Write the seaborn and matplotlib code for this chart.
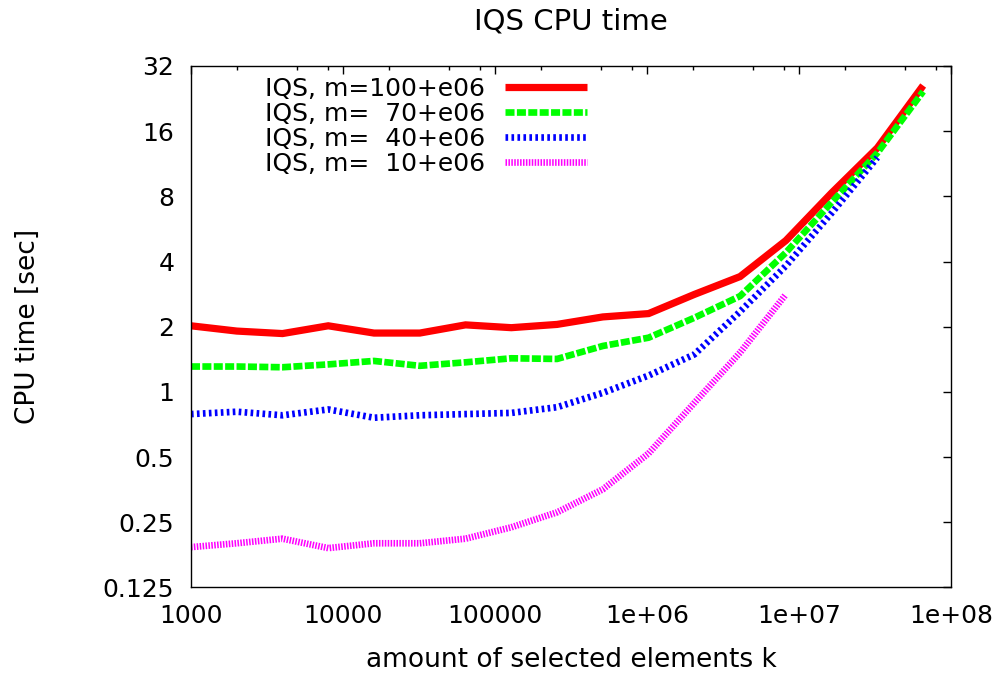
import matplotlib
matplotlib.use("Agg")
import matplotlib.pyplot as plt
import matplotlib.ticker as mticker
import seaborn as sns
import pandas as pd

# ---- data ----
k_values = [1000, 2000, 4000, 8000, 16000, 32000, 64000, 128000, 256000,
            512000, 1024000, 2048000, 4096000, 8192000, 16384000,
            32768000, 65536000]
cpu_m100 = [2.02, 1.91, 1.86, 2.02, 1.87, 1.87, 2.04, 1.98, 2.05, 2.22,
            2.30, 2.82, 3.41, 5.0, 8.3, 13.4, 26.0]
cpu_m70 = [1.31, 1.31, 1.30, 1.34, 1.39, 1.32, 1.37, 1.43, 1.42, 1.63,
           1.78, 2.20, 2.77, 4.4, 7.5, 12.7, 24.4]
cpu_m40 = [0.79, 0.81, 0.78, 0.83, 0.76, 0.78, 0.79, 0.80, 0.85, 0.99,
           1.19, 1.49, 2.35, 3.82, 6.7, 12.1]
cpu_m10 = [0.192, 0.200, 0.210, 0.190, 0.200, 0.200, 0.210, 0.237, 0.278,
           0.355, 0.52, 0.89, 1.52, 2.82]
series_labels = ["IQS, m=100+e06", "IQS, m=  70+e06", "IQS, m=  40+e06",
                 "IQS, m=  10+e06"]
x_tick_values = [1000, 10000, 100000, 1000000, 10000000, 100000000]
x_tick_labels = ["1000", "10000", "100000", "1e+06", "1e+07", "1e+08"]
y_tick_values = [0.125, 0.25, 0.5, 1, 2, 4, 8, 16, 32]
y_tick_labels = ["0.125", "0.25", "0.5", "1", "2", "4", "8", "16", "32"]
title = "IQS CPU time"
x_label = "amount of selected elements k"
y_label = "CPU time [sec]"

# ---- style ----
sns.set_style("white")
plt.rcParams["font.family"] = ["DejaVu Sans"]
plt.rcParams["lines.scale_dashes"] = False
for key in ["text.color", "axes.labelcolor", "xtick.color", "ytick.color",
            "axes.edgecolor"]:
    plt.rcParams[key] = "black"

fig = plt.figure(figsize=(10.03, 6.79), dpi=100)
ax = fig.add_axes([0.1904, 0.1348, 0.7578, 0.768])

colors = ["#ff0000", "#00ff00", "#0000ff", "#ff00ff"]
widths = [5.2, 4.8, 4.8, 4.8]
dash_patterns = [None, (6.5, 1.7), (1.9, 2.4), (1.1, 1.0)]
all_series = [cpu_m100, cpu_m70, cpu_m40, cpu_m10]

for vals, lab, col, lw, dp in zip(all_series, series_labels, colors, widths,
                                  dash_patterns):
    df = pd.DataFrame({"k": k_values[:len(vals)], "t": vals})
    sns.lineplot(data=df, x="k", y="t", ax=ax, color=col, linewidth=lw,
                 label=lab, errorbar=None, sort=False)
    line = ax.lines[-1]
    if dp is not None:
        line.set_dashes(dp)
        line.set_dash_capstyle("butt")
    else:
        line.set_solid_capstyle("butt")
        line.set_solid_joinstyle("miter")

ax.set_xscale("log")
ax.set_yscale("log", base=2)
ax.set_xlim(1000, 1e8)
ax.set_ylim(0.125, 32)

ax.xaxis.set_major_locator(mticker.FixedLocator(x_tick_values))
ax.xaxis.set_major_formatter(mticker.FixedFormatter(x_tick_labels))
ax.xaxis.set_minor_locator(mticker.LogLocator(base=10, subs=[2, 5, 8]))
ax.xaxis.set_minor_formatter(mticker.NullFormatter())
ax.yaxis.set_major_locator(mticker.FixedLocator(y_tick_values))
ax.yaxis.set_major_formatter(mticker.FixedFormatter(y_tick_labels))
ax.yaxis.set_minor_locator(mticker.NullLocator())

ax.tick_params(axis="both", which="both", direction="in", top=True,
               right=True, colors="black", width=1.0)
ax.tick_params(axis="both", which="major", length=6, labelsize=18)
ax.tick_params(axis="x", which="major", pad=12)
ax.tick_params(axis="y", which="major", pad=12)
ax.tick_params(axis="both", which="minor", length=3)

for sp in ax.spines.values():
    sp.set_color("black")
    sp.set_linewidth(1.0)
    sp.set_visible(True)

ax.text(0.5, 1.086, title, transform=ax.transAxes, fontsize=21,
        ha="center", va="center", color="black")
ax.set_xlabel(x_label, fontsize=19)
ax.set_ylabel(y_label, fontsize=19)
ax.xaxis.set_label_coords(0.5, -0.139)
ax.yaxis.set_label_coords(-0.2145, 0.5)
ax.xaxis.label.set_va("center")
ax.yaxis.label.set_va("center")

leg = ax.legend(loc="upper right", bbox_to_anchor=(0.521, 0.979),
                frameon=False, markerfirst=False, fontsize=18,
                handlelength=3.28, handletextpad=0.8, labelspacing=0.04,
                borderpad=0, borderaxespad=0)
for t in leg.get_texts():
    t.set_color("black")

fig.savefig("out.png", dpi=100)
